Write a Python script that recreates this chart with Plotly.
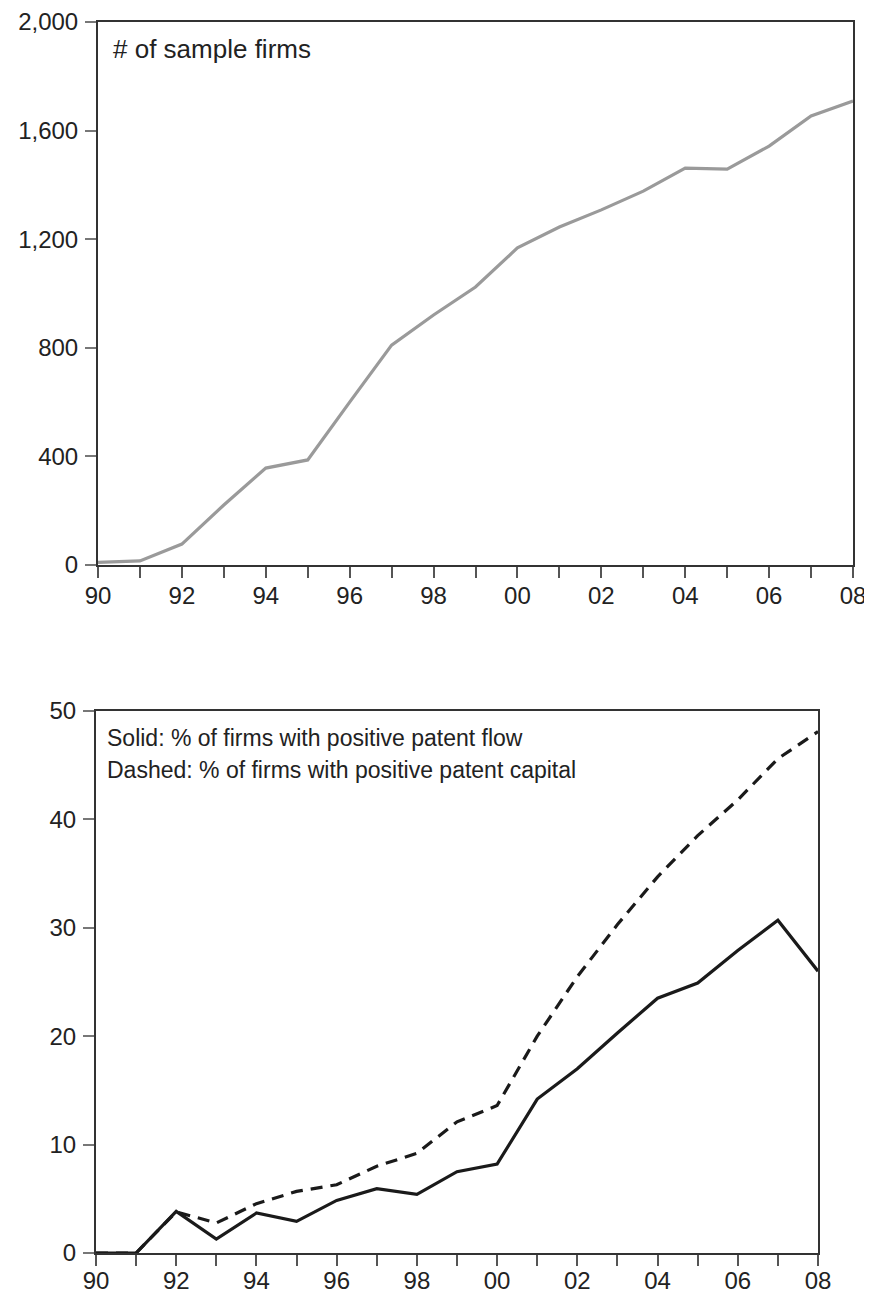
import plotly.graph_objects as go

years = list(range(1990, 2009))
sample_firms = [10, 15, 77, 221, 357, 387, 600, 810, 921, 1024, 1168, 1245, 1308, 1377, 1462, 1458, 1543, 1654, 1709]
pct_flow = [0.0, 0.0, 3.84, 1.29, 3.69, 2.92, 4.85, 5.93, 5.41, 7.5, 8.2, 14.2, 17.0, 20.3, 23.5, 24.9, 27.9, 30.7, 26.0]
pct_capital = [0.0, 0.0, 3.8, 2.77, 4.55, 5.68, 6.3, 8.0, 9.2, 12.1, 13.6, 20.0, 25.5, 30.3, 34.7, 38.5, 41.8, 45.6, 48.1]
x_tickvals = list(range(1990, 2009))
x_ticktext = [("%02d" % (y % 100)) if y % 2 == 0 else "" for y in x_tickvals]
top_yticks = [0, 400, 800, 1200, 1600, 2000]
top_yticktext = ["0", "400", "800", "1,200", "1,600", "2,000"]
bot_yticks = [0, 10, 20, 30, 40, 50]

# page body has an 8px default margin; lay out in window pixels and subtract it
OFF = 8
W, H = 872 - OFF, 1295 - OFF
FONT = "Liberation Sans, Arial, sans-serif"
TXT = "#222222"

def px(x):
    return (x - OFF) / W

def py(y):
    return (H - (y - OFF)) / H

fig = go.Figure()
fig.add_trace(go.Scatter(x=years, y=sample_firms, mode="lines",
                         line=dict(color="#9a9a9a", width=3.2), xaxis="x", yaxis="y", showlegend=False))
fig.add_trace(go.Scatter(x=years, y=pct_capital, mode="lines",
                         line=dict(color="#1a1a1a", width=3.2, dash="12px,8px"), xaxis="x2", yaxis="y2", showlegend=False))
fig.add_trace(go.Scatter(x=years, y=pct_flow, mode="lines",
                         line=dict(color="#1a1a1a", width=3.2), xaxis="x2", yaxis="y2", showlegend=False))

def xax(domain, anchor, standoff):
    return dict(domain=domain, anchor=anchor, range=[1990, 2008], tickmode="array",
                tickvals=x_tickvals, ticktext=x_ticktext, ticks="outside", ticklen=11,
                tickwidth=1.5, tickcolor="#555555", showline=True, linecolor="#333333", linewidth=2,
                mirror=True, showgrid=False, zeroline=False, automargin=False,
                tickfont=dict(family=FONT, size=24, color=TXT), ticklabelstandoff=standoff)

def yax(domain, anchor, tv, tt, rng):
    return dict(domain=domain, anchor=anchor, range=rng, tickmode="array",
                tickvals=tv, ticktext=tt, ticks="outside", ticklen=11,
                tickwidth=1.5, tickcolor="#777777", showline=True, linecolor="#333333", linewidth=2,
                mirror=True, showgrid=False, zeroline=False, automargin=False,
                tickfont=dict(family=FONT, size=24, color=TXT), ticklabelstandoff=2)

fig.update_layout(
    width=W, height=H, margin=dict(l=0, r=0, t=0, b=0),
    paper_bgcolor="white", plot_bgcolor="white",
    xaxis=xax([px(98), px(853)], "y", -3),
    yaxis=yax([py(565), py(22)], "x", top_yticks, top_yticktext, [0, 2000]),
    xaxis2=xax([px(96), px(818)], "y2", -6),
    yaxis2=yax([py(1253), py(711)], "x2", bot_yticks, [str(v) for v in bot_yticks], [0, 50]),
    annotations=[
        dict(text="# of sample firms", x=px(111), y=py(49), xref="paper", yref="paper",
             xanchor="left", yanchor="middle", showarrow=False, font=dict(family=FONT, size=26, color=TXT)),
        dict(text="Solid: % of firms with positive patent flow", x=px(105), y=py(738), xref="paper", yref="paper",
             xanchor="left", yanchor="middle", showarrow=False, font=dict(family=FONT, size=23, color=TXT)),
        dict(text="Dashed: % of firms with positive patent capital", x=px(105), y=py(770), xref="paper", yref="paper",
             xanchor="left", yanchor="middle", showarrow=False, font=dict(family=FONT, size=23, color=TXT)),
    ],
)

fig.write_html("out.html")
